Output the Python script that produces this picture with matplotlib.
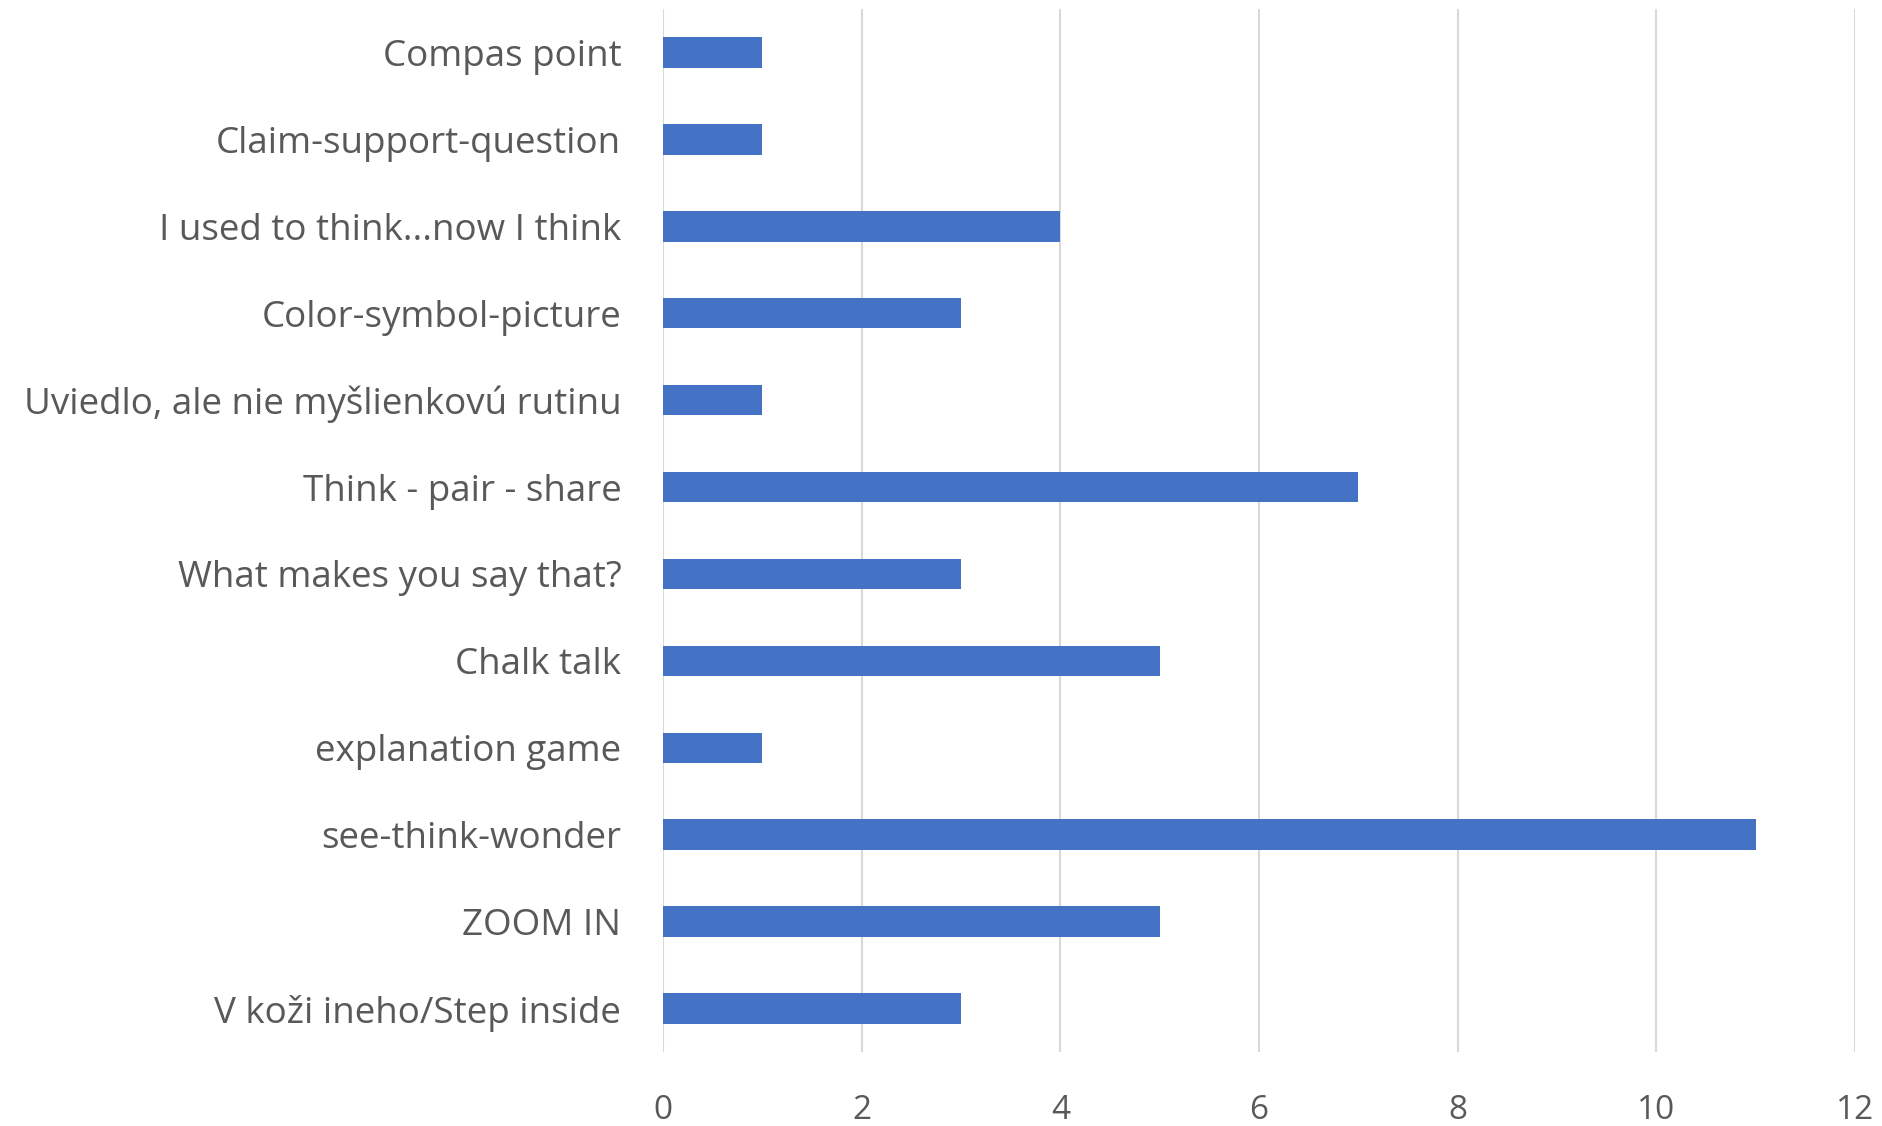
import numpy as np
import matplotlib.pyplot as plt

plt.rcParams['font.family'] = ['Open Sans', 'DejaVu Sans']

# routines, listed top to bottom as in the chart
routines = [
    "Compas point",
    "Claim-support-question",
    "I used to think...now I think",
    "Color-symbol-picture",
    "Uviedlo, ale nie myšlienkovú rutinu",
    "Think - pair - share",
    "What makes you say that?",
    "Chalk talk",
    "explanation game",
    "see-think-wonder",
    "ZOOM IN",
    "V koži ineho/Step inside",
]
counts = [1, 1, 4, 3, 1, 7, 3, 5, 1, 11, 5, 3]
x_ticks = [0, 2, 4, 6, 8, 10, 12]

text_color = '#595959'

fig = plt.figure(figsize=(18.82, 11.26), dpi=100)
ax = fig.add_axes([663 / 1882, 1 - 1052 / 1126, (1855 - 663) / 1882, (1052 - 9) / 1126])

y = np.arange(len(routines))
ax.barh(y, counts, height=0.35, color='#4472C4', zorder=3)

ax.set_xlim(0, 12)
ax.set_ylim(-0.5, len(routines) - 0.5)
ax.invert_yaxis()
ax.set_xticks(x_ticks)
ax.set_xticklabels([str(t) for t in x_ticks])
ax.set_yticks(y)
ax.set_yticklabels(routines)

ax.tick_params(axis='both', length=0, colors=text_color)
ax.tick_params(axis='y', pad=30, labelsize=26.5)
ax.tick_params(axis='x', pad=30, labelsize=24)
ax.grid(axis='x', color='#D9D9D9', linewidth=1.5, zorder=0)
ax.set_axisbelow(True)
for s in ax.spines.values():
    s.set_visible(False)

fig.savefig('out.png', dpi=100)
